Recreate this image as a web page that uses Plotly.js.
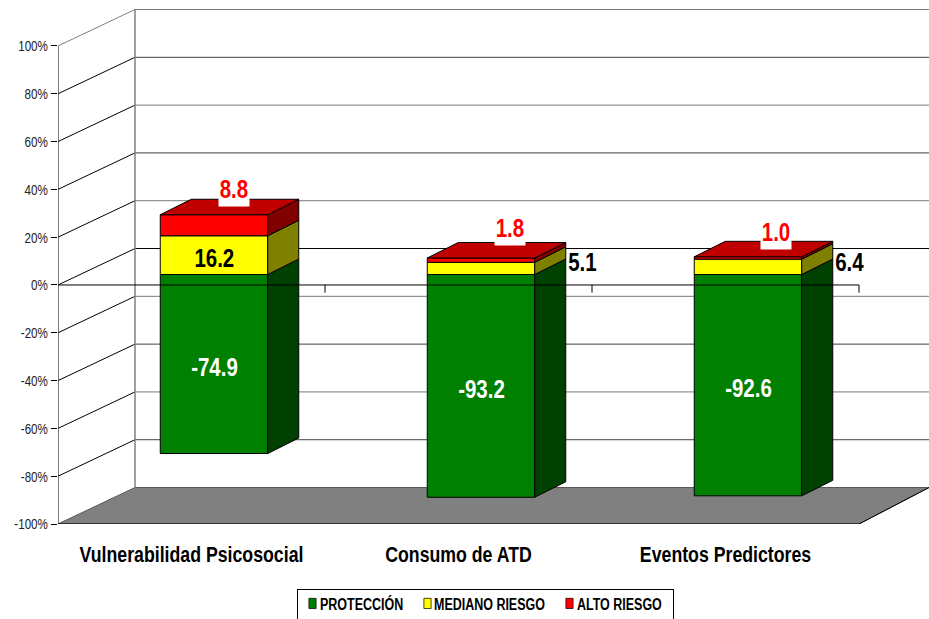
<!DOCTYPE html>
<html><head><meta charset="utf-8">
<script src="https://cdn.plot.ly/plotly-3.0.1.min.js"></script>
<style>html,body{margin:0;padding:0;background:#fff;overflow:hidden}</style>
</head><body><div id="chart" style="width:929px;height:619px"></div>
<script>
const categories = ["Vulnerabilidad Psicosocial", "Consumo de ATD", "Eventos Predictores"];
const proteccion = [-74.9, -93.2, -92.6];
const medianoRiesgo = [16.2, 5.1, 6.4];
const altoRiesgo = [8.8, 1.8, 1.0];
const yTicks = [-100, -80, -60, -40, -20, 0, 20, 40, 60, 80, 100];

// Pixel scale of the oblique projection
const W = 929, H = 619, L = 58, T = 9, B = 94.5;
const pxX = 267, pxY = 478.5 / 200;
const plotW = W - L, plotH = H - T - B;
const xMin = -0.5, xMax = xMin + plotW / pxX;
const yMin = -100, yMax = yMin + plotH / pxY;
const wallDX = 77 / pxX, wallDY = 36.5 / pxY;     // wall depth
const barOffX = 22.5 / pxX, barOffY = 10.5 / pxY; // bar front plane vs chart front plane
const barDX = 31 / pxX, barDY = 15.5 / pxY;       // bar depth
const barW = 107.5 / pxX;
const FONT = '"Liberation Sans",Arial,sans-serif';
const idx = categories.map((_, i) => i);

function poly(list) { // list of polygons -> x,y separated by null
  const x = [], y = [];
  list.forEach(p => { p.forEach(q => { x.push(q[0]); y.push(q[1]); }); x.push(null); y.push(null); });
  return {x, y};
}
function face(list, color, axes) {
  const p = poly(list);
  return {x: p.x, y: p.y, type: 'scatter', mode: 'lines', fill: 'toself', fillcolor: color,
    line: {color: '#000', width: 1}, showlegend: false, hoverinfo: 'skip', cliponaxis: false, xaxis: axes[0], yaxis: axes[1]};
}
function lines(segs, color, axes, width) {
  const p = poly(segs);
  return {x: p.x, y: p.y, type: 'scatter', mode: 'lines', line: {color, width: width || 1},
    showlegend: false, hoverinfo: 'skip', cliponaxis: false, xaxis: axes[0], yaxis: axes[1]};
}
const A1 = ['x', 'y'], A2 = ['x2', 'y2'];
const frontRight = xMin + categories.length;

// Floor
const floor = face([[[xMin, yMin], [xMin + wallDX, yMin + wallDY], [xMax, yMin + wallDY], [frontRight, yMin], [xMin, yMin]]], '#808080', A1);
floor.line = {color: '#555', width: 1};
const floorEdge = lines([[[frontRight, yMin], [xMax, yMin + wallDY]]], '#000', A1);

// Walls
const diagBlack = [], diagGray = [], wallGray = [], wallDark = [], wallBlack = [];
yTicks.forEach(v => {
  if (v === -100) return;
  const bk = v + wallDY;
  (v === 100 ? diagGray : diagBlack).push([[xMin, v], [xMin + wallDX, bk]]);
  const seg = [[xMin + wallDX, bk], [xMax, bk]];
  if (v === 0) wallBlack.push(seg);
  else if ([80, 40, -40, -80].includes(v)) wallDark.push(seg);
  else wallGray.push(seg);
});
const wallV = lines([[[xMin + wallDX, yMin + wallDY], [xMin + wallDX, yMax]]], '#808080', A1, 1.5);

// Front axes
const axisSegs = [
  [[xMin, yMin - 3.7], [xMin, 100]],
  [[xMin, yMin], [frontRight, yMin]]
];
for (let i = 0; i <= categories.length; i++) {
  axisSegs.push([[xMin + i, yMin], [xMin + i, yMin - 3.7]]);
}

// Bars
function bar(name, vals, color) {
  return {type: 'bar', name, x: idx, y: vals, width: barW, xaxis: 'x2', yaxis: 'y2',
    marker: {color, line: {color: '#000', width: 1}}, hoverinfo: 'skip'};
}
const sideOf = (lo, hi) => idx.map(i => {
  const xr = i + barW / 2;
  return [[xr, lo[i]], [xr + barDX, lo[i] + barDY], [xr + barDX, hi[i] + barDY], [xr, hi[i]], [xr, lo[i]]];
});
const zeros = idx.map(() => 0);
const yelTop = idx.map(i => medianoRiesgo[i]);
const redTop = idx.map(i => medianoRiesgo[i] + altoRiesgo[i]);
const topFaces = idx.map(i => {
  const a = i - barW / 2, b = i + barW / 2, t = redTop[i];
  return [[a, t], [a + barDX, t + barDY], [b + barDX, t + barDY], [b, t], [a, t]];
});

// Zero axis in front of the bars, with its ticks
const zeroY = -barOffY;
const zeroX = q => q - barOffX;
const zeroSegs = [[[zeroX(xMin), zeroY], [zeroX(frontRight), zeroY]]];
for (let i = 1; i <= categories.length; i++) {
  zeroSegs.push([[zeroX(xMin + i), zeroY], [zeroX(xMin + i), zeroY - 3.2]]);
}

const data = [
  floor,
  floorEdge,
  lines(wallGray, '#7a7a7a', A1),
  lines(wallDark, '#404040', A1),
  lines(wallBlack, '#000', A1),
  lines(diagGray, '#808080', A1),
  lines(diagBlack, '#000', A1),
  wallV,
  lines(axisSegs, '#000', A1),
  bar('PROTECCIÓN', proteccion, '#008000'),
  bar('MEDIANO RIESGO', medianoRiesgo, '#FFFF00'),
  bar('ALTO RIESGO', altoRiesgo, '#FF0000'),
  face(sideOf(proteccion, zeros), '#004000', A2),
  face(sideOf(zeros, yelTop), '#808000', A2),
  face(sideOf(yelTop, redTop), '#800000', A2),
  face(topFaces, '#C00000', A2),
  lines(zeroSegs, '#000', A2)
];

// Data labels
const labelFont = (color) => ({family: FONT, size: 25, color, weight: 'bold'});
const annotations = [];
const fmt = v => v.toFixed(1);
idx.forEach(i => {
  annotations.push({xref: 'x2', yref: 'y2', x: i, y: proteccion[i] / 2, text: fmt(proteccion[i]),
    showarrow: false, yshift: -3, font: labelFont('#fff')});
});
annotations.push({xref: 'x2', yref: 'y2', x: 0, y: medianoRiesgo[0] / 2, text: fmt(medianoRiesgo[0]),
  showarrow: false, yshift: -3, font: labelFont('#000')});
const outerShiftY = {1: 6.5, 2: 4.8};
[1, 2].forEach(i => annotations.push({xref: 'x2', yref: 'y2', x: i + barW / 2 + barDX, y: medianoRiesgo[i] / 2,
  text: fmt(medianoRiesgo[i]), showarrow: false, xshift: 17, yshift: outerShiftY[i], font: labelFont('#000')}));
const redShiftX = [20, 28.5, 27.5], redShiftY = [26, 30, 25];
idx.forEach(i => annotations.push({xref: 'x2', yref: 'y2', x: i, y: redTop[i],
  text: fmt(altoRiesgo[i]), showarrow: false, xshift: redShiftX[i], yshift: redShiftY[i], bgcolor: '#fff',
  font: labelFont('#FF0000'), borderpad: 0, width: 30, height: 34}));

const layout = {
  width: W, height: H,
  margin: {l: L, r: 0, t: T, b: B, pad: 0, autoexpand: false},
  paper_bgcolor: '#fff', plot_bgcolor: '#fff',
  barmode: 'relative', showlegend: true,
  hovermode: false,
  xaxis: {range: [xMin, xMax], tickmode: 'array', tickvals: idx, ticktext: categories,
    showgrid: false, zeroline: false, showline: false, ticks: '', ticklabelstandoff: 15, automargin: false,
    tickfont: {family: FONT, size: 22, color: '#000', weight: 'bold'}},
  yaxis: {range: [yMin, yMax], tickmode: 'array', tickvals: yTicks, ticktext: yTicks.map(v => v + '%'),
    showgrid: false, zeroline: false, showline: false, ticks: 'outside', ticklen: 6, tickcolor: '#000', tickwidth: 1,
    automargin: false, tickfont: {family: FONT, size: 15.5, color: '#222'}},
  xaxis2: {range: [xMin - barOffX, xMax - barOffX], overlaying: 'x', anchor: 'y2', visible: false},
  yaxis2: {range: [yMin - barOffY, yMax - barOffY], overlaying: 'y', anchor: 'x2', visible: false},
  legend: {orientation: 'h', x: (297 - L) / plotW, xanchor: 'left', y: -(590 - (H - B)) / plotH, yanchor: 'top',
    bgcolor: '#fff', bordercolor: '#000', borderwidth: 1, traceorder: 'normal',
    font: {family: FONT, size: 16, color: '#000', weight: 'bold'}},
  annotations
};

// The reference uses horizontally squeezed Arial: narrow the real text glyphs
function squeeze(el, k) {
  const w = el.getComputedTextLength();
  el.setAttribute('lengthAdjust', 'spacingAndGlyphs');
  el.setAttribute('textLength', (w * k).toFixed(1));
}
const gd = document.getElementById('chart');
Plotly.newPlot(gd, data, layout, {displayModeBar: false, staticPlot: true}).then(() => {
  gd.querySelectorAll('.xtick text').forEach(t => squeeze(t, 0.805));
  gd.querySelectorAll('.ytick text').forEach(t => squeeze(t, 0.75));
  gd.querySelectorAll('.annotation text').forEach(t => squeeze(t, 0.82));
  // Legend: compact layout after squeezing
  const swatchX = [15.5, 130.5, 272.5], textX = [23, 137, 280];
  gd.querySelectorAll('.legend .traces').forEach((g, i) => {
    g.setAttribute('transform', 'translate(0,14)');
    const txt = g.querySelector('.legendtext');
    txt.setAttribute('x', textX[i]);
    squeeze(txt, 0.78);
    g.querySelectorAll('path').forEach(p => p.setAttribute('transform', 'translate(' + swatchX[i] + ',0) scale(0.6,0.85)'));
  });
  const bg = gd.querySelector('.legend .bg');
  bg.setAttribute('width', 376);
  bg.setAttribute('height', 34);
});
</script></body></html>
